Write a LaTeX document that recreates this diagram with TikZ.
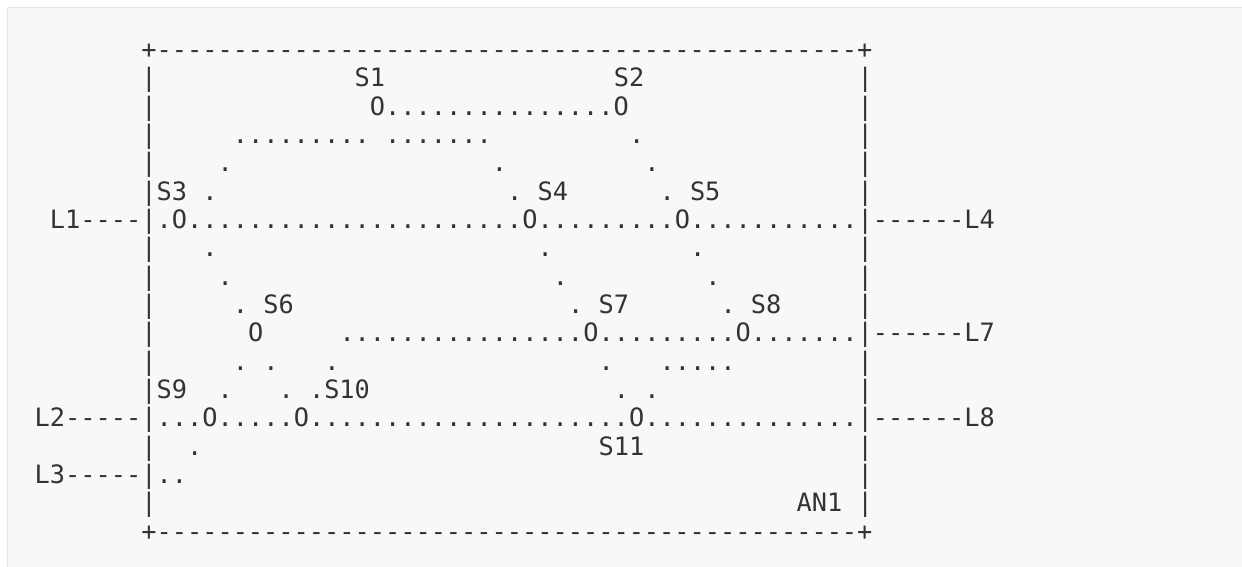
\documentclass[tikz,border=0pt]{standalone}
\usepackage{fontspec}
\setmonofont{DejaVu Sans Mono}
\definecolor{txt}{HTML}{333333}
\definecolor{bg}{HTML}{F8F8F8}
\definecolor{bd}{HTML}{E6E6E6}
\newcommand\rep[2]{\foreach\k in {1,...,#1}{#2}}
\newcommand\asctxt[4]{\node[asc] (#1) at ({34.7+15.24*#2},{58.4+28.33*#3}) {#4};}
\tikzset{asc/.style={anchor=base west, inner sep=0pt, outer sep=0pt,
  font=\ttfamily\fontsize{25.3}{28}\selectfont, text=txt}}
\begin{document}
\begin{tikzpicture}[x=1pt,y=-1pt]
\useasboundingbox (0,0) rectangle (1242,566);
\begin{scope}
\clip (0,0) rectangle (1242,566);
\fill[bg] (7.5,7.5) rectangle (1260,590);
\draw[bd, line width=1pt] (7.5,590) -- (7.5,7.5) -- (1260,7.5);
\end{scope}
% row 0
\asctxt{top}{7}{0}{+\rep{46}{-}+}
% row 1
\asctxt{l1}{7}{1}{|}\asctxt{s1}{21}{1}{S1}\asctxt{s2}{38}{1}{S2}\asctxt{r1}{54}{1}{|}
% row 2
\asctxt{l2}{7}{2}{|}\asctxt{o12}{22}{2}{O\rep{15}{.}O}\asctxt{r2}{54}{2}{|}
% row 3
\asctxt{l3}{7}{3}{|}\asctxt{d3a}{13}{3}{\rep{9}{.}}\asctxt{d3b}{23}{3}{\rep{7}{.}}\asctxt{d3c}{39}{3}{.}\asctxt{r3}{54}{3}{|}
% row 4
\asctxt{l4}{7}{4}{|}\asctxt{d4a}{12}{4}{.}\asctxt{d4b}{30}{4}{.}\asctxt{d4c}{40}{4}{.}\asctxt{r4}{54}{4}{|}
% row 5
\asctxt{l5}{7}{5}{|S3}\asctxt{d5a}{11}{5}{.}\asctxt{s4}{31}{5}{.~S4}\asctxt{s5}{41}{5}{.~S5}\asctxt{r5}{54}{5}{|}
% row 6
\asctxt{L1}{1}{6}{L1----|}\asctxt{o3}{8}{6}{.O}\asctxt{d6a}{10}{6}{\rep{22}{.}}\asctxt{o4}{32}{6}{O}
\asctxt{d6b}{33}{6}{\rep{9}{.}}\asctxt{o5}{42}{6}{O}\asctxt{d6c}{43}{6}{\rep{11}{.}}\asctxt{L4}{54}{6}{|------L4}
% row 7
\asctxt{l7}{7}{7}{|}\asctxt{d7a}{11}{7}{.}\asctxt{d7b}{33}{7}{.}\asctxt{d7c}{43}{7}{.}\asctxt{r7}{54}{7}{|}
% row 8
\asctxt{l8}{7}{8}{|}\asctxt{d8a}{12}{8}{.}\asctxt{d8b}{34}{8}{.}\asctxt{d8c}{44}{8}{.}\asctxt{r8}{54}{8}{|}
% row 9
\asctxt{l9}{7}{9}{|}\asctxt{s6}{13}{9}{.~S6}\asctxt{s7}{35}{9}{.~S7}\asctxt{s8}{45}{9}{.~S8}\asctxt{r9}{54}{9}{|}
% row 10
\asctxt{l10}{7}{10}{|}\asctxt{o6}{14}{10}{O}\asctxt{d10a}{20}{10}{\rep{16}{.}}\asctxt{o7}{36}{10}{O}
\asctxt{d10b}{37}{10}{\rep{9}{.}}\asctxt{o8}{46}{10}{O}\asctxt{d10c}{47}{10}{\rep{7}{.}}\asctxt{L7}{54}{10}{|------L7}
% row 11
\asctxt{l11}{7}{11}{|}\asctxt{d11a}{13}{11}{.}\asctxt{d11b}{15}{11}{.}\asctxt{d11c}{19}{11}{.}\asctxt{d11d}{37}{11}{.}
\asctxt{d11e}{41}{11}{\rep{5}{.}}\asctxt{r11}{54}{11}{|}
% row 12
\asctxt{l12}{7}{12}{|S9}\asctxt{d12a}{12}{12}{.}\asctxt{d12b}{16}{12}{.}\asctxt{s10}{18}{12}{.S10}
\asctxt{d12c}{38}{12}{.}\asctxt{d12d}{40}{12}{.}\asctxt{r12}{54}{12}{|}
% row 13
\asctxt{L2}{0}{13}{L2-----|}\asctxt{d13a}{8}{13}{...}\asctxt{o9}{11}{13}{O}\asctxt{d13b}{12}{13}{\rep{5}{.}}
\asctxt{o10}{17}{13}{O}\asctxt{d13c}{18}{13}{\rep{21}{.}}\asctxt{o11}{39}{13}{O}\asctxt{d13d}{40}{13}{\rep{14}{.}}
\asctxt{L8}{54}{13}{|------L8}
% row 14
\asctxt{l14}{7}{14}{|}\asctxt{d14a}{10}{14}{.}\asctxt{s11}{37}{14}{S11}\asctxt{r14}{54}{14}{|}
% row 15
\asctxt{L3}{0}{15}{L3-----|}\asctxt{d15a}{8}{15}{..}\asctxt{r15}{54}{15}{|}
% row 16
\asctxt{l16}{7}{16}{|}\asctxt{an1}{50}{16}{AN1}\asctxt{r16}{54}{16}{|}
% row 17
\asctxt{bot}{7}{17}{+\rep{46}{-}+}
\end{tikzpicture}
\end{document}
